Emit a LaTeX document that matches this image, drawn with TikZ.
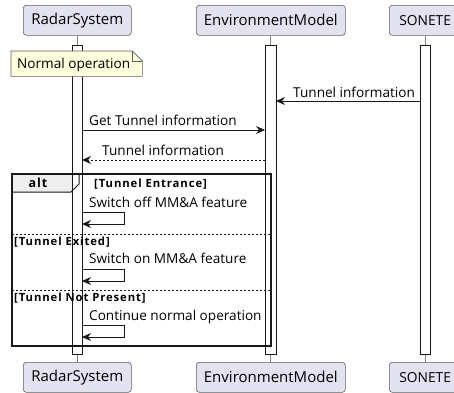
\documentclass[tikz,border=0pt]{standalone}
\usepackage{fontspec}
\setmainfont{Open Sans}
\newfontfamily\guardfont{Open Sans}[LetterSpace=8]
\usetikzlibrary{arrows.meta}
\definecolor{partfill}{HTML}{E2E2F0}
\definecolor{linec}{HTML}{181818}
\definecolor{notefill}{HTML}{FEFFDD}
\definecolor{tabfill}{HTML}{EEEEEE}
\tikzset{
  x=1pt, y=-1pt,
  part/.style={draw=linec!70, line width=0.6pt, fill=partfill, rounded corners=3pt, minimum height=30pt, inner xsep=7pt, font=\fontsize{15}{17}\selectfont, anchor=north west},
  bar/.style={draw=linec, line width=0.6pt, fill=white},
  msg/.style={draw=linec, line width=0.9pt, -{Stealth[length=9pt,width=8pt,inset=3pt]}},
  ret/.style={msg, dashed, dash pattern=on 2pt off 2pt},
  lbl/.style={font=\fontsize{13.6}{15}\selectfont, inner sep=0pt, anchor=base west},
  guard/.style={font=\guardfont\bfseries\fontsize{11.3}{13}\selectfont, inner sep=0pt, anchor=base west},
  life/.style={draw=gray, line width=0.6pt},
  sep/.style={draw=linec, line width=0.7pt, dash pattern=on 2pt off 2pt},
  sonete/.style={part, minimum width=90pt, text width=70pt, inner xsep=5pt, align=left, font=\fontsize{13.8}{17}\selectfont}
}
\begin{document}
\begin{tikzpicture}
\useasboundingbox (0,0) rectangle (454,392);
% participants top
\node[part, minimum width=108pt] (rsT) at (23,5) {RadarSystem};
\node[part, minimum width=149pt] (emT) at (196,5) {EnvironmentModel};
\node[sonete] (soT) at (389,5) {SONETE};
% participants bottom
\node[part, minimum width=108pt] (rsB) at (23,362) {RadarSystem};
\node[part, minimum width=149pt] (emB) at (196,362) {EnvironmentModel};
\node[sonete] (soB) at (389,362) {SONETE};
% lifeline stubs
\coordinate (rsA) at (77,45); \coordinate (rsZ) at (77,354);
\coordinate (emA) at (270.5,45); \coordinate (emZ) at (270.5,354);
\coordinate (soA) at (425,45); \coordinate (soZ) at (425,354);
\draw[life] (rsT.south -| rsA) -- (rsA);
\draw[life] (emT.south -| emA) -- (emA);
\draw[life] (soT.south -| soA) -- (soA);
\draw[life] (rsZ) -- (rsB.north -| rsZ);
\draw[life] (emZ) -- (emB.north -| emZ);
\draw[life] (soZ) -- (soB.north -| soZ);
% alt tab fill (under bars)
\fill[tabfill] (12,174) -- (79,174) -- (79,184) -- (71,192) -- (12,192) -- cycle;
% activation bars
\draw[bar] (72,45) rectangle (82,354);
\draw[bar] (265,45) rectangle (276,354);
\draw[bar] (420,45) rectangle (430,354);
\coordinate (rsL) at (82,0); \coordinate (emL) at (265,0); \coordinate (emR) at (276,0); \coordinate (soL) at (420,0);
% note
\node[inner sep=0pt, minimum width=131pt, minimum height=25pt, anchor=north west] (note) at (11,51) {};
\filldraw[draw=linec!70, line width=0.6pt, fill=notefill] (note.north west) -- ([xshift=-10pt]note.north east) -- ([yshift=-10pt]note.north east) -- (note.south east) -- (note.south west) -- cycle;
\draw[linec!70, line width=0.6pt] ([xshift=-10pt]note.north east) -- ([xshift=-10pt,yshift=-10pt]note.north east) -- ([yshift=-10pt]note.north east);
\node[lbl] (noteT) at (17,68) {Normal operation};
% messages
\coordinate (m1) at (0,101);
\draw[msg] (soL |- m1) -- (emR |- m1);
\node[lbl] (m1t) at (293,97) {Tunnel information};
\coordinate (m2) at (0,130);
\draw[msg] (rsL |- m2) -- (emL |- m2);
\node[lbl] (m2t) at (89,125) {Get Tunnel information};
\coordinate (m3) at (0,160);
\draw[ret] (emL |- m3) -- (rsL |- m3);
\node[lbl] (m3t) at (102,155) {Tunnel information};
% alt frame
\draw[linec, line width=1.4pt] (12,174) rectangle (271,346);
\draw[linec, line width=1.0pt] (79,174) -- (79,184) -- (71,192) -- (12,192);
\node[font=\guardfont\bfseries\fontsize{12.5}{14}\selectfont, inner sep=0pt, anchor=base] (altl) at (38,187.5) {alt};
\node[guard] (g1) at (94,187) {[Tunnel Entrance]};
\draw[sep] (12,234) -- (271,234);
\node[guard] (g2) at (14,245) {[Tunnel Exited]};
\draw[sep] (12,290) -- (271,290);
\node[guard] (g3) at (14,301) {[Tunnel Not Present]};
% self messages
\node[lbl] (s1t) at (89,207) {Switch off MM\&A feature};
\draw[msg] (82,212) -- (124,212) -- (124,224) -- (82,224);
\node[lbl] (s2t) at (89,263) {Switch on MM\&A feature};
\draw[msg] (82,269) -- (124,269) -- (124,281) -- (82,281);
\node[lbl] (s3t) at (89,320) {Continue normal operation};
\draw[msg] (82,325) -- (124,325) -- (124,337) -- (82,337);
\end{tikzpicture}
\end{document}
